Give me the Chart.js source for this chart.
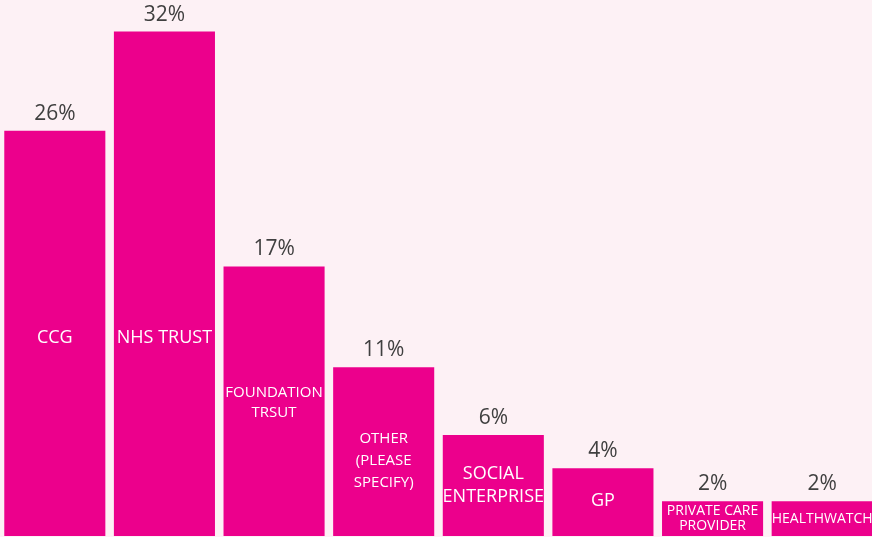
<!DOCTYPE html>
<html>
<head>
<meta charset="utf-8">
<script src="https://cdn.jsdelivr.net/npm/chart.js@4"></script>
<style>
  html, body {
    margin: 0;
    padding: 0;
    background: #fdf1f5;
    overflow: hidden;
  }
  #wrap {
    width: 877px;
    height: 537px;
  }
</style>
</head>
<body>
<div id="wrap"><canvas id="chart"></canvas></div>
<script>
const categories = [
  ["CCG"],
  ["NHS TRUST"],
  ["FOUNDATION", "TRSUT"],
  ["OTHER", "(PLEASE", "SPECIFY)"],
  ["SOCIAL", "ENTERPRISE"],
  ["GP"],
  ["PRIVATE CARE", "PROVIDER"],
  ["HEALTHWATCH"],
];
const values = [25.7, 32, 17.1, 10.7, 6.4, 4.3, 2.2, 2.2];
const valueLabels = ["26%", "32%", "17%", "11%", "6%", "4%", "2%", "2%"];

// styling of the label inside each bar
const innerFontSizes = [18, 18, 15, 15, 18, 18, 14, 14];
const innerLineHeights = [22, 22, 20, 22, 23, 22, 15, 15];
const innerOffsets = [4, 54, 2, 9, 0, -1, 0, 0];

const barColor = "#ec008c";
const fontFamily = "'Open Sans', sans-serif";

const barLabelsPlugin = {
  id: "barLabels",
  afterDatasetsDraw(chart) {
    const ctx = chart.ctx;
    const meta = chart.getDatasetMeta(0);

    ctx.save();
    ctx.textAlign = "center";
    ctx.textBaseline = "middle";

    meta.data.forEach((bar, i) => {
      // percentage above the bar
      ctx.font = `21px ${fontFamily}`;
      ctx.fillStyle = "#404040";
      ctx.fillText(valueLabels[i], bar.x, bar.y - 17);

      // category name inside the bar
      const lines = categories[i];
      const lineHeight = innerLineHeights[i];
      const middle = (bar.y + bar.base) / 2 + innerOffsets[i];
      const startY = middle - ((lines.length - 1) * lineHeight) / 2;

      ctx.font = `${innerFontSizes[i]}px ${fontFamily}`;
      ctx.fillStyle = "#ffffff";
      lines.forEach((line, j) => {
        ctx.fillText(line, bar.x, startY + j * lineHeight);
      });
    });

    ctx.restore();
  },
};

new Chart(document.getElementById("chart"), {
  type: "bar",
  plugins: [barLabelsPlugin],
  data: {
    labels: categories.map((c) => c.join(" ")),
    datasets: [
      {
        data: values,
        backgroundColor: barColor,
        borderWidth: 0,
        barPercentage: 0.922,
        categoryPercentage: 1,
      },
    ],
  },
  options: {
    responsive: true,
    maintainAspectRatio: false,
    animation: false,
    layout: { padding: { top: 0, bottom: 1, left: 0, right: 0 } },
    plugins: {
      legend: { display: false },
      tooltip: { enabled: false },
    },
    scales: {
      x: { display: false },
      y: { display: false, min: 0, max: 34 },
    },
  },
});
</script>
</body>
</html>
